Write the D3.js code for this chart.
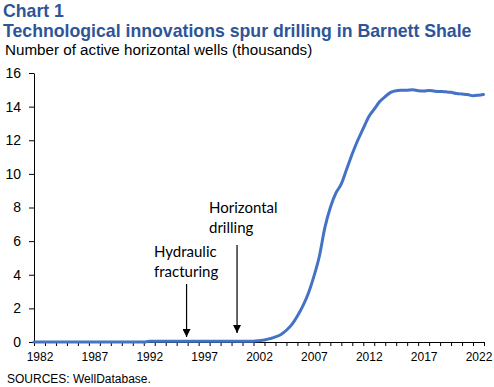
<!DOCTYPE html>
<html><head><meta charset="utf-8">
<script src="https://cdn.jsdelivr.net/npm/d3@7"></script>
<style>body{margin:0;background:#fff}svg{display:block}</style>
</head><body>
<svg id="chart" width="494" height="387"></svg>
<script>
// ---- data ----
const years = [1982.0, 1992.0, 1992.5, 2002.0, 2002.5, 2003.0, 2003.5, 2004.0, 2004.5, 2005.0, 2005.5, 2006.0, 2006.5, 2007.0, 2007.5, 2008.0, 2008.5, 2009.0, 2009.5, 2010.0, 2010.5, 2011.0, 2011.5, 2012.0, 2012.5, 2013.0, 2013.5, 2014.0, 2014.5, 2015.0, 2015.5, 2016.0, 2016.5, 2017.0, 2017.5, 2018.0, 2018.5, 2019.0, 2019.5, 2020.0, 2020.5, 2021.0, 2021.5, 2022.0, 2022.5, 2022.95];
const wells = [0.0, 0.0, 0.04, 0.05, 0.08, 0.12, 0.2, 0.3, 0.45, 0.7, 1.05, 1.55, 2.15, 2.9, 3.9, 5.1, 6.8, 8.0, 8.85, 9.4, 10.3, 11.2, 12.0, 12.7, 13.4, 13.85, 14.3, 14.6, 14.85, 14.95, 14.97, 14.98, 15.0, 14.95, 14.93, 14.96, 14.92, 14.9, 14.88, 14.85, 14.78, 14.75, 14.72, 14.65, 14.68, 14.72];
const xTickYears = d3.range(1982, 2024);
const xLabelYears = [1982, 1987, 1992, 1997, 2002, 2007, 2012, 2017, 2022];
const yTicks = [0, 2, 4, 6, 8, 10, 12, 14, 16];
const annotations = [
  {lines: ["Hydraulic", "fracturing"], year: 1995.9},
  {lines: ["Horizontal", "drilling"], year: 2000.5}
];

(function () {
const svg = d3.select("#chart");
const pLeft = 34, pRight = 484, pTop = 73, pBottom = 342;
const x = d3.scaleLinear().domain([1982, 2023]).range([pLeft, pRight]);
const y = d3.scaleLinear().domain([0, 16]).range([pBottom, pTop]);
const FONT = "Liberation Sans, Arial, sans-serif";

// titles
const blue = "#2E5597";
svg.append("text").attr("x", 3).attr("y", 17).text("Chart 1")
  .attr("font-family", FONT).attr("font-weight", "bold")
  .attr("font-size", 17.7).attr("fill", blue);
svg.append("text").attr("x", 3).attr("y", 37).text("Technological innovations spur drilling in Barnett Shale")
  .attr("font-family", FONT).attr("font-weight", "bold")
  .attr("font-size", 17.7).attr("fill", blue);
svg.append("text").attr("x", 5).attr("y", 55).text("Number of active horizontal wells (thousands)")
  .attr("font-family", FONT).attr("font-size", 15.2).attr("fill", "#000");
svg.append("text").attr("x", 7).attr("y", 383).text("SOURCES: WellDatabase.")
  .attr("font-family", FONT).attr("font-size", 12).attr("fill", "#000");

// y axis
const yAxis = d3.axisLeft(y).tickValues(yTicks).tickSize(5).tickPadding(8).tickSizeOuter(0);
const gy = svg.append("g").attr("transform", `translate(${pLeft},0)`).call(yAxis);
gy.selectAll("text").attr("font-family", FONT).attr("font-size", 14).attr("fill", "#000");
gy.selectAll("line,path").attr("stroke", "#000");

// x axis ticks (yearly) and labels (centered in year)
const xAxis = d3.axisBottom(x).tickValues(xTickYears).tickSize(4).tickSizeOuter(0).tickFormat("");
const gx = svg.append("g").attr("transform", `translate(0,${pBottom})`).call(xAxis);
gx.selectAll("line,path").attr("stroke", "#000");
const xLab = d3.axisBottom(x).tickValues(xLabelYears.map(d => d + 0.5)).tickSize(0).tickPadding(10)
  .tickFormat(d => String(Math.floor(d)));
const gxl = svg.append("g").attr("transform", `translate(0,${pBottom})`).call(xLab);
gxl.select(".domain").remove();
gxl.selectAll("text").attr("font-family", FONT).attr("font-size", 12).attr("fill", "#000");

// line
const pts = years.map((yr, i) => [yr, wells[i]]);
svg.append("path").datum(pts)
  .attr("fill", "none").attr("stroke", "#4472C4").attr("stroke-width", 3)
  .attr("stroke-linejoin", "round").attr("stroke-linecap", "round")
  .attr("d", d3.line().x(d => x(d[0])).y(d => y(d[1])).curve(d3.curveMonotoneX));

// annotations
svg.append("defs").append("marker").attr("id", "arr").attr("viewBox", "0 0 10 10")
  .attr("refX", 10).attr("refY", 5).attr("markerWidth", 8).attr("markerHeight", 8)
  .attr("markerUnits", "userSpaceOnUse").attr("orient", "auto")
  .append("path").attr("d", "M0,0 L10,5 L0,10 Z").attr("fill", "#000");

const annPos = [{text: 256.5, arrow: 284, tip: 337, tx: 154}, {text: 212.5, arrow: 245, tip: 333, tx: 209}];
annotations.forEach((a, i) => {
  const p = annPos[i];
  const t = svg.append("text").attr("font-family", "Lato, Carlito, Calibri, sans-serif").attr("font-size", 15).attr("fill", "#000");
  a.lines.forEach((ln, j) => t.append("tspan").attr("x", p.tx).attr("y", p.text + j * 20.5).text(ln));
  svg.append("line").attr("x1", x(a.year)).attr("x2", x(a.year)).attr("y1", p.arrow).attr("y2", p.tip)
    .attr("stroke", "#000").attr("stroke-width", 1.2).attr("marker-end", "url(#arr)");
});
})();
</script>
</body></html>
